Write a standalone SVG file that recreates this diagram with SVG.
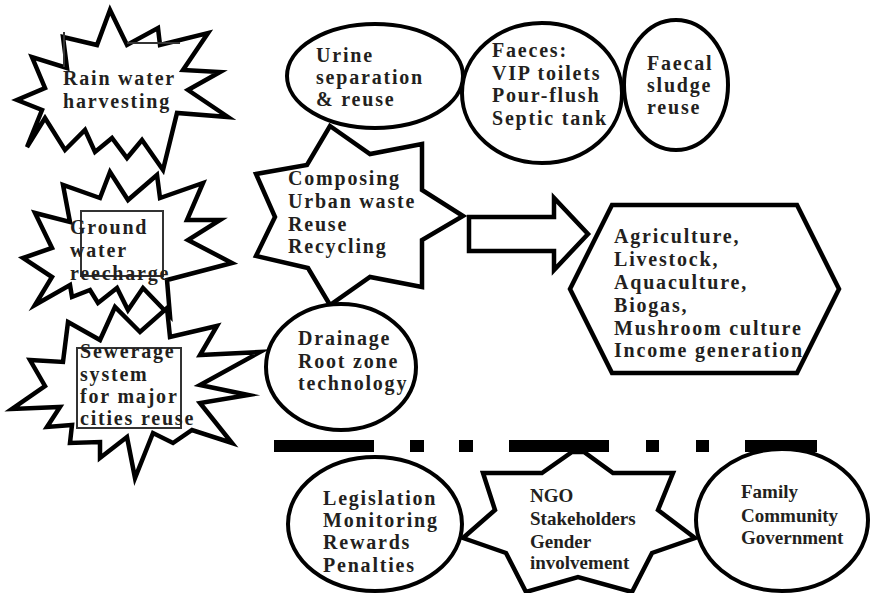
<svg xmlns="http://www.w3.org/2000/svg" width="871" height="593" viewBox="0 0 871 593">
<style>
.s{fill:#fff;stroke:#000;stroke-width:4.5;stroke-linejoin:miter;stroke-miterlimit:10}
.e{fill:#fff;stroke:#000;stroke-width:4}
.t{font-family:"Liberation Serif","Times New Roman",serif;font-weight:bold;font-size:20px;letter-spacing:1.8px;fill:#231f20}
.n{font-family:"Liberation Serif","Times New Roman",serif;font-weight:bold;font-size:19px;fill:#231f20}
.b{fill:none;stroke:#333;stroke-width:2}
</style>
<rect width="871" height="593" fill="#fff"/>
<g id="rain">
<polygon class="s" points="110,10 127,45 158,28 160,45 208,33 183,70 220,72 188,90 228,117 177,113 163,170 142,140 127,158 112,138 95,152 85,130 65,150 45,118 27,147 42,110 17,100 45,88 32,57 67,68 63,37 97,45"/>
<polyline class="b" points="64,32 64,67"/>
<polyline class="b" points="127,43 180,43"/>
<text class="t" x="63" y="85">Rain water</text>
<text class="t" x="63" y="108">harvesting</text>
</g>
<g id="ground">
<polygon class="s" points="110,172 128,200 157,175 160,198 203,183 187,220 220,220 188,240 232,263 167,280 170,316 143,288 128,310 117,288 98,303 90,290 72,297 70,285 35,305 52,277 23,258 52,248 35,213 70,222 63,185 100,198"/>
<rect class="b" x="81" y="211" width="82" height="65"/>
<text class="t" x="70" y="234">Ground</text>
<text class="t" x="70" y="257">water</text>
<text class="t" x="70" y="280">reecharge</text>
</g>
<g id="sewerage">
<polygon class="s" points="68,322 100,340 115,307 140,332 167,308 170,337 217,326 200,355 260,352 200,385 248,395 200,403 232,443 192,430 173,443 153,433 135,478 127,437 100,458 100,442 70,443 72,425 47,427 60,407 12,409 45,386 30,360 63,362"/>
<rect class="b" x="77" y="348" width="104" height="80"/>
<text class="t" x="80" y="358">Sewerage</text>
<text class="t" x="80" y="381">system</text>
<text class="t" x="80" y="403">for major</text>
<text class="t" x="80" y="425">cities reuse</text>
</g>
<g id="urine">
<ellipse class="e" cx="375" cy="76" rx="88" ry="52"/>
<text class="t" x="316" y="62">Urine</text>
<text class="t" x="316" y="84">separation</text>
<text class="t" x="316" y="106">&amp; reuse</text>
</g>
<g id="faeces">
<ellipse class="e" cx="542" cy="93" rx="80" ry="70"/>
<text class="t" x="492" y="57">Faeces:</text>
<text class="t" x="492" y="80">VIP toilets</text>
<text class="t" x="492" y="102">Pour-flush</text>
<text class="t" x="492" y="125">Septic tank</text>
</g>
<g id="faecal">
<ellipse class="e" cx="676" cy="85" rx="52" ry="65"/>
<text class="t" x="647" y="70">Faecal</text>
<text class="t" x="647" y="92">sludge</text>
<text class="t" x="647" y="114">reuse</text>
</g>
<g id="composing">
<polygon class="s" points="330,126 370,154 422,144 422,190 463,216 422,240 422,287 370,277 330,305 308,268 256,256 275,217 256,174 307,165"/>
<text class="t" x="288" y="185">Composing</text>
<text class="t" x="288" y="208">Urban waste</text>
<text class="t" x="288" y="231">Reuse</text>
<text class="t" x="288" y="253">Recycling</text>
</g>
<g id="drainage">
<ellipse class="e" cx="341" cy="367" rx="75" ry="63"/>
<text class="t" x="298" y="345">Drainage</text>
<text class="t" x="298" y="368">Root zone</text>
<text class="t" x="298" y="390">technology</text>
</g>
<g id="outcomes">
<polygon class="s" points="612,205 797,205 839,289 797,373 612,373 570,289"/>
<text class="t" x="614" y="243">Agriculture,</text>
<text class="t" x="614" y="266">Livestock,</text>
<text class="t" x="614" y="289">Aquaculture,</text>
<text class="t" x="614" y="312">Biogas,</text>
<text class="t" x="614" y="335">Mushroom culture</text>
<text class="t" x="614" y="357">Income generation</text>
</g>
<g id="connectors">
<polygon class="s" points="469,217 554,217 554,198 588,234 554,270 554,251 469,251"/>
<g fill="#000">
<rect x="274" y="440" width="100" height="12"/>
<rect x="410" y="440" width="14" height="12"/>
<rect x="459" y="440" width="14" height="12"/>
<rect x="509" y="440" width="100" height="12"/>
<rect x="646" y="440" width="13" height="12"/>
<rect x="696" y="440" width="13" height="12"/>
<rect x="745" y="440" width="72" height="12"/>
</g>
</g>
<g id="legislation">
<ellipse class="e" cx="375" cy="524" rx="87" ry="67"/>
<text class="t" x="323" y="505">Legislation</text>
<text class="t" x="323" y="527">Monitoring</text>
<text class="t" x="323" y="549">Rewards</text>
<text class="t" x="323" y="572">Penalties</text>
</g>
<g id="ngo">
<polygon class="s" points="542,473 572,452 584,452 613,473 673,473 658,510 695,538 652,553 632,592 578,577 526,592 506,553 463,538 495,510 483,473"/>
<text class="n" x="530" y="502">NGO</text>
<text class="n" x="530" y="525">Stakeholders</text>
<text class="n" x="530" y="548">Gender</text>
<text class="n" x="530" y="569">involvement</text>
</g>
<g id="family">
<ellipse class="e" cx="782" cy="520" rx="86" ry="71"/>
<text class="n" x="741" y="498">Family</text>
<text class="n" x="741" y="522">Community</text>
<text class="n" x="741" y="544">Government</text>
</g>
</svg>
